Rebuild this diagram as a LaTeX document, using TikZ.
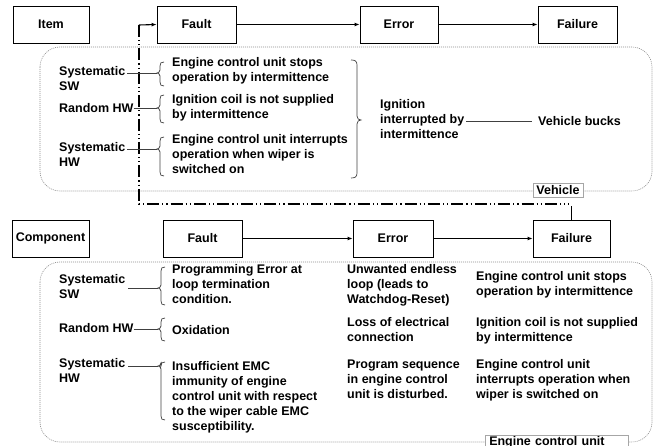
\documentclass[tikz,border=0pt]{standalone}
\usepackage{fontspec}
\setmainfont{Liberation Sans}
\usetikzlibrary{arrows.meta}
\newcommand\mylbr[4]{% x, top, tip, bottom  (opens to the right)
  \draw[brc] ({#1+7},#2) .. controls ({#1+4},#2) and ({#1+3},{#2+1}) .. ({#1+3},{#2+4})
    -- ({#1+3},{#3-3}) .. controls ({#1+3},{#3-1}) and ({#1+1},#3) .. (#1,#3)
    .. controls ({#1+1},#3) and ({#1+3},{#3+1}) .. ({#1+3},{#3+3})
    -- ({#1+3},{#4-4}) .. controls ({#1+3},{#4-1}) and ({#1+4},#4) .. ({#1+7},#4);}
\newcommand\myrbr[4]{% tip x, top, tip, bottom (opens to the left)
  \draw[brc] ({#1-10},#2) .. controls ({#1-6},#2) and ({#1-4},{#2+1}) .. ({#1-4},{#2+5})
    -- ({#1-4},{#3-4}) .. controls ({#1-4},{#3-1}) and ({#1-2},#3) .. (#1,#3)
    .. controls ({#1-2},#3) and ({#1-4},{#3+1}) .. ({#1-4},{#3+4})
    -- ({#1-4},{#4-5}) .. controls ({#1-4},{#4-1}) and ({#1-6},#4) .. ({#1-10},#4);}
\begin{document}
\begin{tikzpicture}[x=1pt,y=-1pt,
  every node/.style={font=\fontsize{12.5}{15}\selectfont\bfseries, inner sep=0pt},
  box/.style={draw, line width=0.8pt, minimum height=37pt},
  txt/.style={anchor=north west, align=left},
  arr/.style={line width=1.1pt, -{Latex[length=5pt,width=4pt]}},
  lnk/.style={draw=black!75, line width=0.7pt},
  brc/.style={draw=black!75, line width=0.7pt},
  dotbox/.style={draw=black!45, line width=0.6pt, dash pattern=on 1pt off 1pt, rounded corners=20pt},
  tag/.style={draw=black!35, line width=0.5pt, fill=white},
  dd/.style={line width=1.2pt, dash pattern=on 12pt off 3pt on 1.2pt off 3pt on 1.2pt off 3pt}]
\useasboundingbox (0,0) rectangle (655,446);
\clip (0,0) rectangle (655,446);

% ---------- top (Item) ----------
\draw[dotbox] (40,47) rectangle (652,191);
\node[box, minimum width=76pt] (item) at (51,24.5) {Item};
\node[box, minimum width=79pt] (fa1) at (196.5,24.5) {Fault};
\node[box, minimum width=78pt] (er1) at (399,24.5) {Error};
\node[box, minimum width=79pt] (fl1) at (577.5,24.5) {Failure};
\draw[arr] (fa1) -- (er1);
\draw[arr] (er1) -- (fl1);

\coordinate (dtop) at (139,25);
\coordinate (dcor) at (139,204);
\coordinate (dend) at (569,204);
\draw[dd] (dtop) -- (dcor) -- (dend);
\draw[arr] (dtop) -- (fa1.west);

\node[txt] (l1) at (59,66.5) {Systematic\\SW};
\node[txt] (l2) at (59,103.5) {Random HW};
\node[txt] (l3) at (59,142.5) {Systematic\\HW};
\node[txt] (f1) at (172,57.5) {Engine control unit stops\\operation by intermittence};
\node[txt] (f2) at (172,94.5) {Ignition coil is not supplied\\by intermittence};
\node[txt] (f3) at (172,134.5) {Engine control unit interrupts\\operation when wiper is\\switched on};
\coordinate (t1) at (157,73);
\coordinate (t2) at (157,108);
\coordinate (t3) at (157,149);
\draw[lnk] ([xshift=2pt]l1.east |- t1) -- (t1);
\draw[lnk] (l2.east |- t2) -- (t2);
\draw[lnk] ([xshift=2pt]l3.east |- t3) -- (t3);
\mylbr{157}{62}{73}{86}
\mylbr{157}{95}{108}{123}
\mylbr{157}{137}{149}{176}
\myrbr{361}{60}{120}{178}

\node[txt] (ign) at (380,99.5) {Ignition\\interrupted by\\intermittence};
\node[anchor=west] (vb) at (538,121) {Vehicle bucks};
\draw[lnk] ([xshift=2pt]ign.east |- vb.west) -- ([xshift=-6pt]vb.west);
\node[tag, minimum width=50pt, minimum height=14pt] (veh) at (558,190) {Vehicle};

% ---------- bottom (Component) ----------
\draw[dotbox] (40,262) rectangle (652,442);
\node[box, minimum width=77pt] (comp) at (50.5,238.5) {Component};
\node[box, minimum width=79pt] (fa2) at (202.5,238.5) {Fault};
\node[box, minimum width=80pt] (er2) at (393,238.5) {Error};
\node[box, minimum width=77pt] (fl2) at (571.5,238.5) {Failure};
\draw[arr] (fa2) -- (er2);
\draw[arr] (er2) -- (fl2);
\draw[line width=1pt] (fl2.north) -- (fl2.north |- 0,206);

\node[txt] (l4) at (59,274.5) {Systematic\\SW};
\node[txt] (l5) at (59,323.5) {Random HW};
\node[txt] (l6) at (59,358.5) {Systematic\\HW};
\node[txt] (g1) at (172,264.5) {Programming Error at\\loop termination\\condition.};
\node[txt] (g2) at (172,325) {Oxidation};
\node[txt] (g3) at (172,361) {Insufficient EMC\\immunity of engine\\control unit with respect\\to the wiper cable EMC\\susceptibility.};
\coordinate (t4) at (158,288);
\coordinate (t5) at (158,329);
\coordinate (t6) at (158,366);
\draw[lnk] ([xshift=3pt]l4.east |- t4) -- (t4);
\draw[lnk] (l5.east |- t5) -- (t5);
\draw[lnk] ([xshift=3pt]l6.east |- t6) -- (t6);
\mylbr{158}{267}{288}{305}
\mylbr{158}{318}{329}{341}
\mylbr{158}{362}{366}{420}

\node[txt] (e1) at (347,264.5) {Unwanted endless\\loop (leads to\\Watchdog-Reset)};
\node[txt] (e2) at (347,317) {Loss of electrical\\connection};
\node[txt] (e3) at (347,359.5) {Program sequence\\in engine control\\unit is disturbed.};
\node[txt] (h1) at (476,271) {Engine control unit stops\\operation by intermittence};
\node[txt] (h2) at (476,317) {Ignition coil is not supplied\\by intermittence};
\node[txt] (h3) at (476,359.5) {Engine control unit\\interrupts operation when\\wiper is switched on};

\node[tag, anchor=north west, text width=135pt, align=left, inner xsep=4pt, minimum height=18pt, text depth=6pt] (ecu) at (485,435) {Engine control unit};
\end{tikzpicture}
\end{document}
